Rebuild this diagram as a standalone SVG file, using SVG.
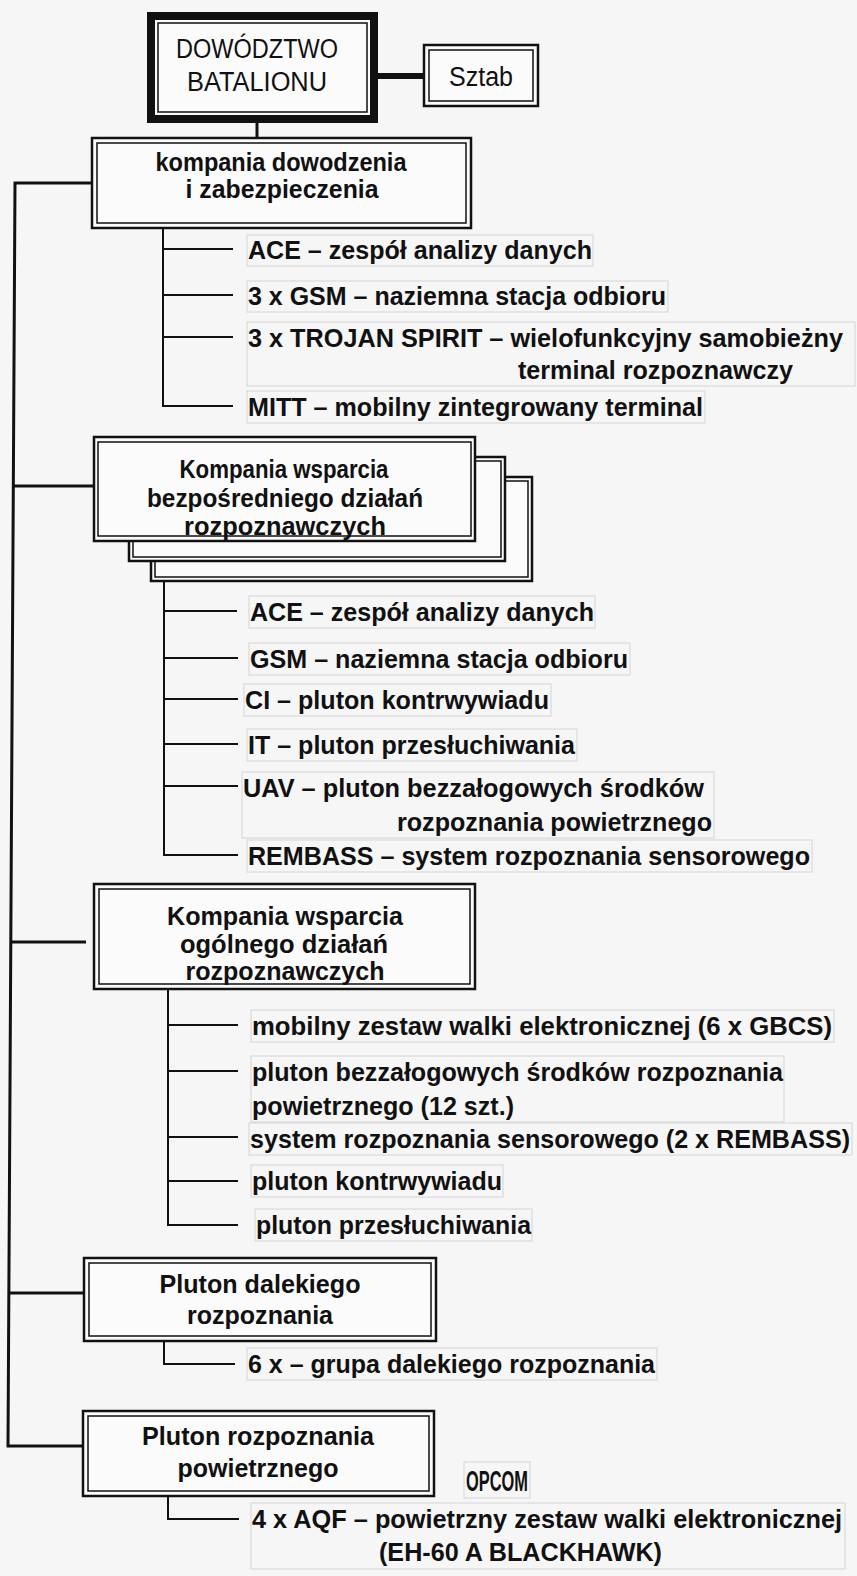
<svg xmlns="http://www.w3.org/2000/svg" width="857" height="1576" viewBox="0 0 857 1576">
<style>
.bg{fill:#f6f6f6}
.box{fill:#fbfbfb;stroke:#111;stroke-width:2.5}
.inner{fill:none;stroke:#111;stroke-width:1.5}
.con{fill:none;stroke:#111;stroke-width:3}
.sub{fill:none;stroke:#111;stroke-width:2}
.tb{fill:none;stroke:#d4d4d4;stroke-width:1}
.h{font-family:"Liberation Sans",Arial,sans-serif;font-weight:bold;font-size:25px;fill:#111;text-anchor:middle}
.hn{font-family:"Liberation Sans Narrow","Liberation Sans",Arial,sans-serif;font-weight:bold;font-size:26px;fill:#111;text-anchor:middle}
.t{font-family:"Liberation Sans Narrow","Liberation Sans",Arial,sans-serif;font-weight:bold;font-size:25px;fill:#111}
.r{font-family:"Liberation Sans",Arial,sans-serif;font-size:27px;fill:#111;text-anchor:middle}
.big{font-size:29px}
</style>
<rect class="bg" x="0" y="0" width="857" height="1576"/>

<g id="connectors">
  <line x1="378" y1="76" x2="423" y2="76" stroke="#111" stroke-width="6"/>
  <line x1="257" y1="123" x2="257" y2="138" class="con"/>
  <path class="con" d="M92,183 H15 L8,1446 H82"/>
  <line class="con" x1="13.3" y1="486" x2="93" y2="486"/>
  <line class="con" x1="10.8" y1="942" x2="86" y2="942"/>
  <line class="con" x1="8.9" y1="1293" x2="83" y2="1293"/>
  <path class="sub" d="M163,229 V406 H233 M163,249 H233 M163,295 H233 M163,337 H233"/>
  <path class="sub" d="M164,582 V855 H238 M164,611 H237 M164,658 H238 M164,699 H238 M164,744 H238 M164,786 H238"/>
  <path class="sub" d="M168,990 V1225 H238 M168,1025 H238 M168,1071 H238 M168,1137 H238 M168,1181 H238"/>
  <path class="sub" d="M164,1341 V1364 H235"/>
  <path class="sub" d="M168,1496 V1519 H239"/>
</g>

<g id="dowodztwo">
  <rect x="151" y="16" width="223" height="103" fill="#fbfbfb" stroke="#111" stroke-width="8"/>
  <rect class="inner" x="158" y="23" width="209" height="89"/>
  <text class="r" x="257" y="58" textLength="162" lengthAdjust="spacingAndGlyphs">DOWÓDZTWO</text>
  <text class="r" x="257" y="91" textLength="140" lengthAdjust="spacingAndGlyphs">BATALIONU</text>
</g>

<g id="sztab">
  <rect class="box" x="424" y="45" width="114" height="61" stroke-width="2"/>
  <rect class="inner" x="429" y="50" width="104" height="51"/>
  <text class="r" x="481" y="86" textLength="64" lengthAdjust="spacingAndGlyphs">Sztab</text>
</g>

<g id="kompania-dowodzenia">
  <rect class="box" x="92" y="138" width="379" height="90"/>
  <rect class="inner" x="97" y="143" width="369" height="80"/>
  <text class="h" x="281" y="171" textLength="251" lengthAdjust="spacingAndGlyphs">kompania dowodzenia</text>
  <text class="h" x="282" y="198" textLength="193" lengthAdjust="spacingAndGlyphs">i zabezpieczenia</text>
</g>

<g id="items-1">
  <rect class="tb" x="247" y="235" width="346" height="31"/>
  <text class="t" x="248" y="259" textLength="344" lengthAdjust="spacingAndGlyphs">ACE – zespół analizy danych</text>
  <rect class="tb" x="247" y="281" width="421" height="31"/>
  <text class="t" x="248" y="305" textLength="418" lengthAdjust="spacingAndGlyphs">3 x GSM – naziemna stacja odbioru</text>
  <rect class="tb" x="247" y="322" width="608" height="64"/>
  <text class="t" x="248" y="347" textLength="595" lengthAdjust="spacingAndGlyphs">3 x TROJAN SPIRIT – wielofunkcyjny samobieżny</text>
  <text class="t" x="518" y="379" textLength="275" lengthAdjust="spacingAndGlyphs">terminal rozpoznawczy</text>
  <rect class="tb" x="247" y="391" width="458" height="32"/>
  <text class="t" x="248" y="416" textLength="455" lengthAdjust="spacingAndGlyphs">MITT – mobilny zintegrowany terminal</text>
</g>

<g id="kompania-bezposredniego">
  <rect class="box" x="151" y="477" width="381" height="104" stroke-width="2"/>
  <rect class="inner" x="155" y="481" width="373" height="96"/>
  <rect class="box" x="129" y="457" width="376" height="104" stroke-width="2"/>
  <rect class="inner" x="133" y="461" width="368" height="96"/>
  <rect class="box" x="94" y="437" width="381" height="104" stroke-width="2"/>
  <rect class="inner" x="98" y="442" width="373" height="94"/>
  <text class="h" x="284" y="478" textLength="209" lengthAdjust="spacingAndGlyphs">Kompania wsparcia</text>
  <text class="h" x="285" y="507" textLength="276" lengthAdjust="spacingAndGlyphs">bezpośredniego działań</text>
  <text class="h" x="285" y="535" textLength="202" lengthAdjust="spacingAndGlyphs">rozpoznawczych</text>
</g>

<g id="items-2">
  <rect class="tb" x="249" y="596" width="346" height="32"/>
  <text class="t" x="250" y="621" textLength="344" lengthAdjust="spacingAndGlyphs">ACE – zespół analizy danych</text>
  <rect class="tb" x="249" y="643" width="381" height="32"/>
  <text class="t" x="250" y="668" textLength="378" lengthAdjust="spacingAndGlyphs">GSM – naziemna stacja odbioru</text>
  <rect class="tb" x="244" y="684" width="307" height="32"/>
  <text class="t" x="245" y="709" textLength="304" lengthAdjust="spacingAndGlyphs">CI – pluton kontrwywiadu</text>
  <rect class="tb" x="247" y="729" width="330" height="32"/>
  <text class="t" x="248" y="754" textLength="327" lengthAdjust="spacingAndGlyphs">IT – pluton przesłuchiwania</text>
  <rect class="tb" x="242" y="772" width="472" height="66"/>
  <text class="t" x="243" y="797" textLength="461" lengthAdjust="spacingAndGlyphs">UAV – pluton bezzałogowych środków</text>
  <text class="t" x="397" y="831" textLength="315" lengthAdjust="spacingAndGlyphs">rozpoznania powietrznego</text>
  <rect class="tb" x="247" y="840" width="565" height="32"/>
  <text class="t" x="248" y="865" textLength="562" lengthAdjust="spacingAndGlyphs">REMBASS – system rozpoznania sensorowego</text>
</g>

<g id="kompania-ogolnego">
  <rect class="box" x="94" y="884" width="381" height="105"/>
  <rect class="inner" x="99" y="889" width="371" height="95"/>
  <text class="hn" x="285" y="925" textLength="236" lengthAdjust="spacingAndGlyphs">Kompania wsparcia</text>
  <text class="hn" x="284" y="953" textLength="208" lengthAdjust="spacingAndGlyphs">ogólnego działań</text>
  <text class="hn" x="285" y="980" textLength="199" lengthAdjust="spacingAndGlyphs">rozpoznawczych</text>
</g>

<g id="items-3">
  <rect class="tb" x="251" y="1010" width="583" height="32"/>
  <text class="t" x="252" y="1035" textLength="580" lengthAdjust="spacingAndGlyphs">mobilny zestaw walki elektronicznej (6 x GBCS)</text>
  <rect class="tb" x="251" y="1056" width="533" height="66"/>
  <text class="t" x="252" y="1081" textLength="531" lengthAdjust="spacingAndGlyphs">pluton bezzałogowych środków rozpoznania</text>
  <text class="t" x="252" y="1115" textLength="262" lengthAdjust="spacingAndGlyphs">powietrznego (12 szt.)</text>
  <rect class="tb" x="249" y="1123" width="603" height="32"/>
  <text class="t" x="250" y="1148" textLength="600" lengthAdjust="spacingAndGlyphs">system rozpoznania sensorowego (2 x REMBASS)</text>
  <rect class="tb" x="251" y="1165" width="252" height="32"/>
  <text class="t" x="252" y="1190" textLength="250" lengthAdjust="spacingAndGlyphs">pluton kontrwywiadu</text>
  <rect class="tb" x="255" y="1209" width="277" height="32"/>
  <text class="t" x="256" y="1234" textLength="275" lengthAdjust="spacingAndGlyphs">pluton przesłuchiwania</text>
</g>

<g id="pluton-dalekiego">
  <rect class="box" x="84" y="1258" width="352" height="83"/>
  <rect class="inner" x="89" y="1263" width="342" height="73"/>
  <text class="hn" x="260" y="1293" textLength="201" lengthAdjust="spacingAndGlyphs">Pluton dalekiego</text>
  <text class="hn" x="260" y="1324" textLength="146" lengthAdjust="spacingAndGlyphs">rozpoznania</text>
</g>

<g id="items-4">
  <rect class="tb" x="247" y="1348" width="410" height="32"/>
  <text class="t" x="248" y="1373" textLength="407" lengthAdjust="spacingAndGlyphs">6 x – grupa dalekiego rozpoznania</text>
</g>

<g id="pluton-powietrznego">
  <rect class="box" x="83" y="1411" width="351" height="85"/>
  <rect class="inner" x="88" y="1416" width="341" height="75"/>
  <text class="hn" x="258" y="1445" textLength="232" lengthAdjust="spacingAndGlyphs">Pluton rozpoznania</text>
  <text class="hn" x="258" y="1477" textLength="161" lengthAdjust="spacingAndGlyphs">powietrznego</text>
</g>

<g id="items-5">
  <rect class="tb" x="464" y="1462" width="66" height="36"/>
  <text class="t big" x="466" y="1491" textLength="62" lengthAdjust="spacingAndGlyphs">OPCOM</text>
  <rect class="tb" x="251" y="1503" width="594" height="66"/>
  <text class="t" x="252" y="1528" textLength="590" lengthAdjust="spacingAndGlyphs">4 x AQF – powietrzny zestaw walki elektronicznej</text>
  <text class="t" x="379" y="1561" textLength="283" lengthAdjust="spacingAndGlyphs">(EH-60 A BLACKHAWK)</text>
</g>
</svg>
